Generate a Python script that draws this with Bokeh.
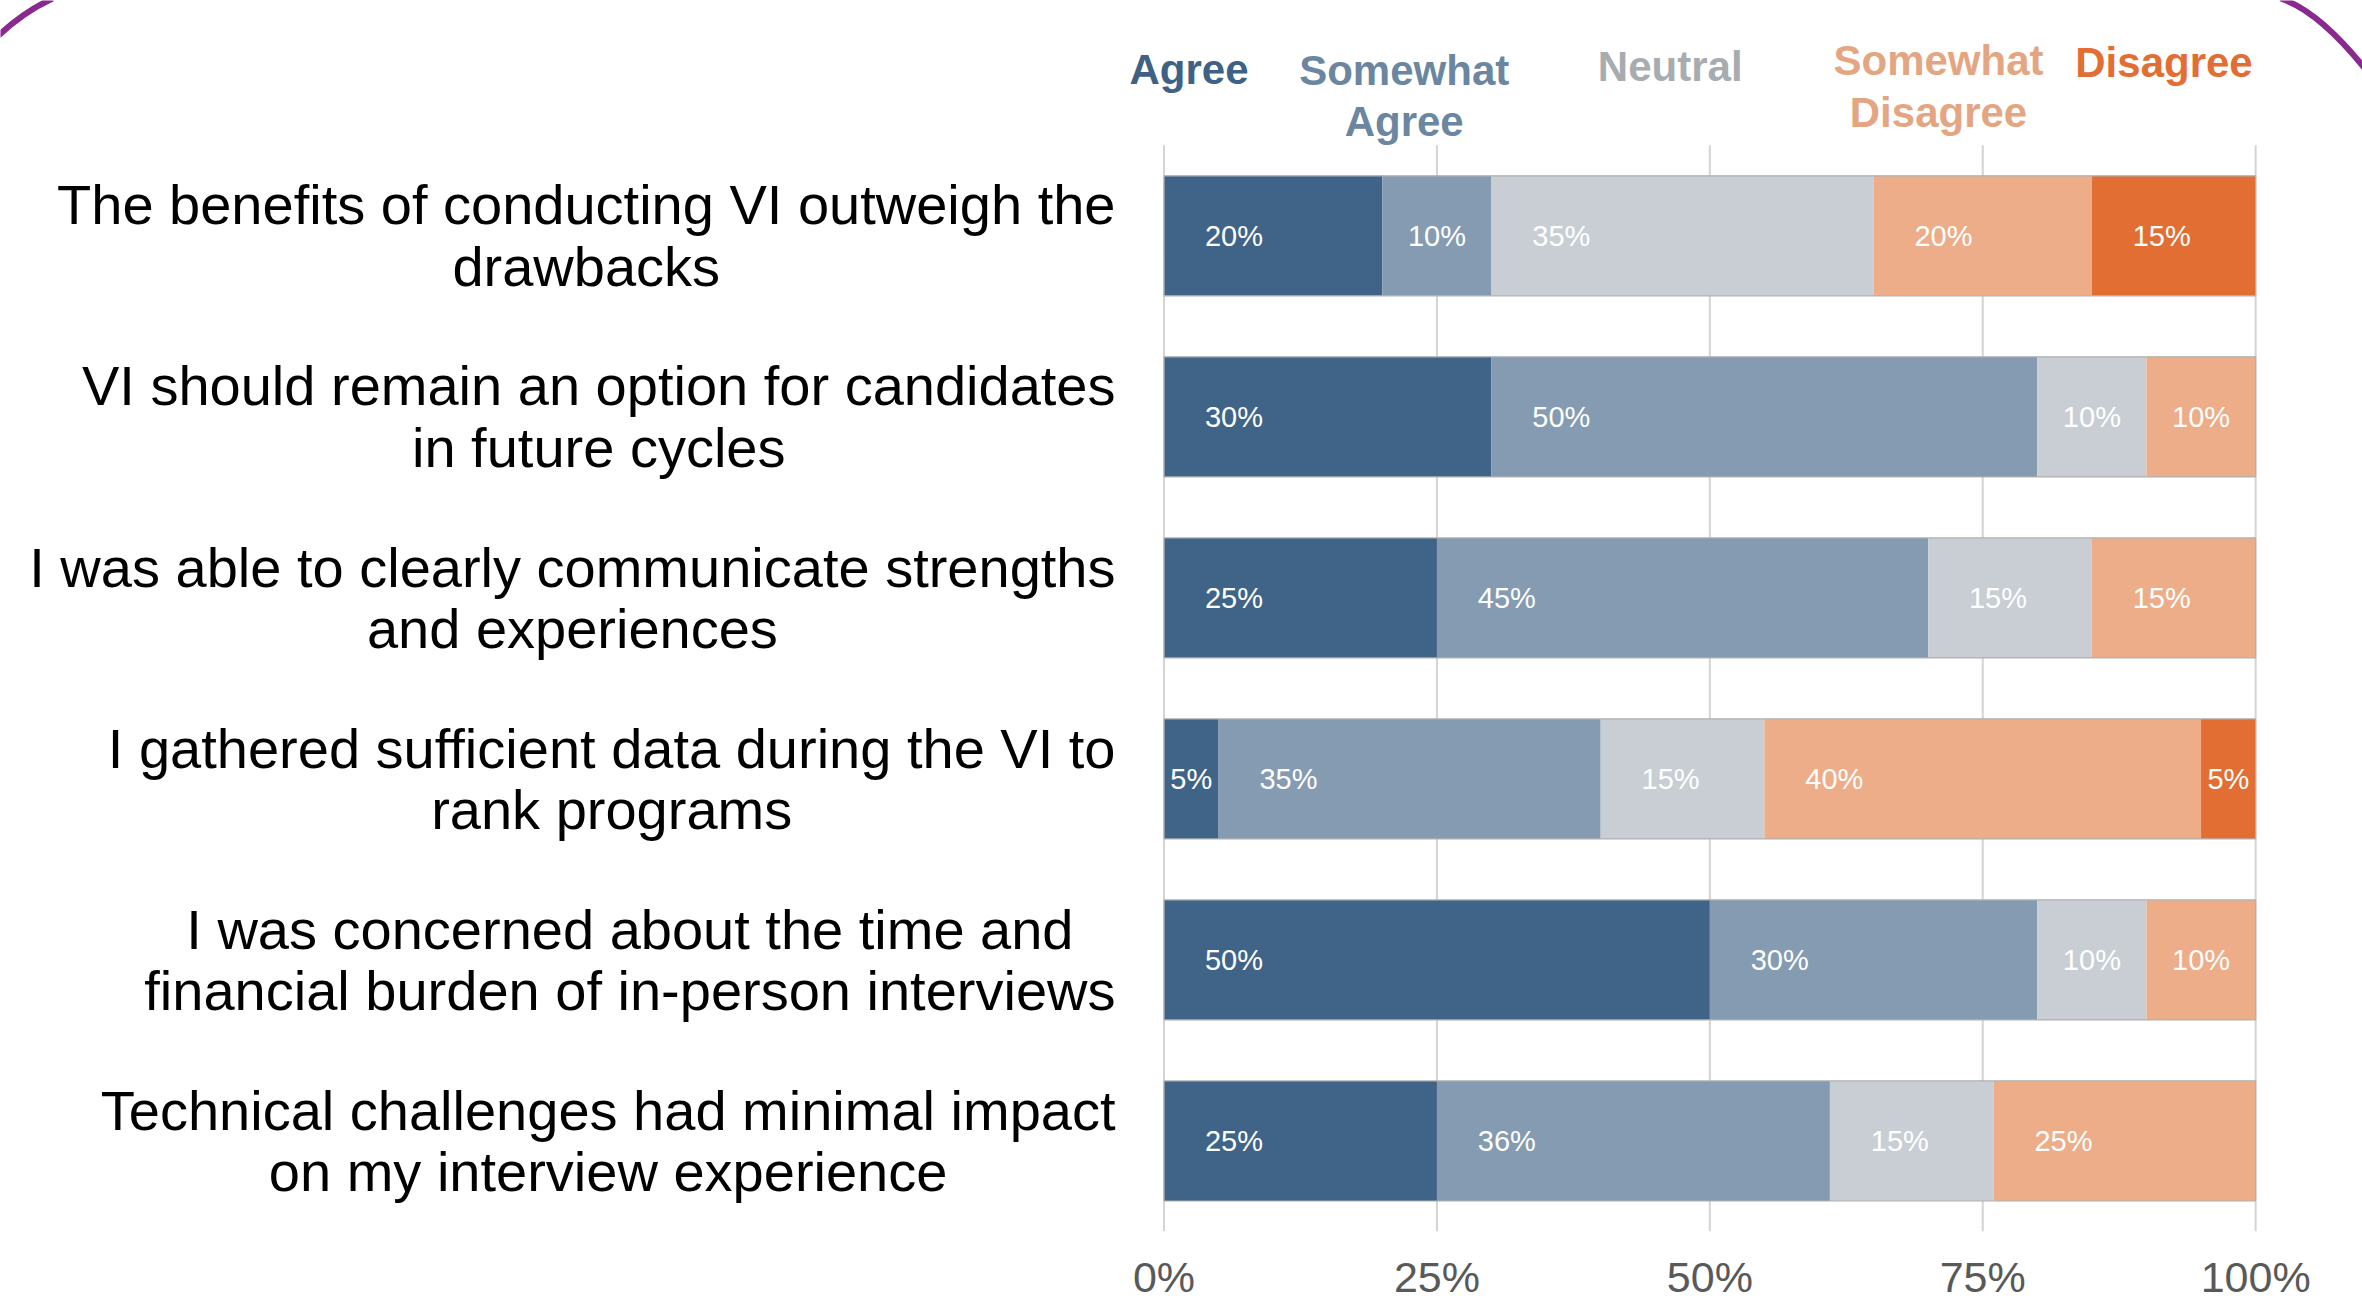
from bokeh.plotting import figure
from bokeh.models import Range1d, FixedTicker
from bokeh.core.properties import value
from bokeh.embed import file_html
from bokeh.resources import INLINE

# ---------------- data ----------------
statements = [
    "The benefits of conducting VI outweigh the\ndrawbacks",
    "VI should remain an option for candidates\nin future cycles",
    "I was able to clearly communicate strengths\nand experiences",
    "I gathered sufficient data during the VI to\nrank programs",
    "I was concerned about the time and\nfinancial burden of in-person interviews",
    "Technical challenges had minimal impact\non my interview experience",
]
series_names = ["Agree", "Somewhat\nAgree", "Neutral", "Somewhat\nDisagree", "Disagree"]
agree = [20, 30, 25, 5, 50, 25]
somewhat_agree = [10, 50, 45, 35, 30, 36]
neutral = [35, 10, 15, 15, 10, 15]
somewhat_disagree = [20, 10, 15, 40, 10, 25]
disagree = [15, 0, 0, 5, 0, 0]
tick_values = [0, 25, 50, 75, 100]
tick_labels = ["0%", "25%", "50%", "75%", "100%"]

# ---------------- style ----------------
bar_colors = ["#3F6487", "#849BB1", "#C8CED3", "#ECAD88", "#E26E33"]
legend_colors = ["#3F6186", "#6A86A1", "#A7ACB0", "#E4A682", "#E26E33"]
FONT = "Liberation Sans"

FRAME_W, FRAME_H = 2362, 1231
X0, X1 = -106.59, 109.79
Y_BOTTOM, Y_TOP = 5.5, -1.300


def px_x(px):
    # page pixel -> data x
    return X0 + px / FRAME_W * (X1 - X0)


def px_y(py):
    return Y_TOP + py / FRAME_H * (Y_BOTTOM - Y_TOP)


p = figure(
    frame_width=FRAME_W, frame_height=FRAME_H,
    x_range=Range1d(X0, X1), y_range=Range1d(Y_BOTTOM, Y_TOP),
    y_axis_type=None, output_backend="svg", toolbar_location=None,
    min_border_left=0, min_border_right=0, min_border_top=0, min_border_bottom=0,
)
p.outline_line_color = None
p.xgrid.visible = False
p.background_fill_color = "white"
p.border_fill_color = "white"

# gridlines (bounded to the category area)
p.segment(x0=tick_values, x1=tick_values, y0=[-0.5] * 5, y1=[len(statements) - 0.5] * 5,
          line_color="#D4D4D4", line_width=2)

# stacked bars (axis maximum is 100%)
series = [agree, somewhat_agree, neutral, somewhat_disagree, disagree]
rows = list(range(len(statements)))
starts = [0.0] * len(statements)
lx, ly, lt = [], [], []
for vals, col in zip(series, bar_colors):
    idx = [i for i, v in enumerate(vals) if v > 0 and starts[i] < 100]
    left = [starts[i] for i in idx]
    right = [min(starts[i] + vals[i], 100) for i in idx]
    p.hbar(y=idx, left=left, right=right, height=0.663, fill_color=col, line_color=None)
    for i in idx:
        lx.append(starts[i] + min(vals[i] / 2, 6.4))
        ly.append(i)
        lt.append(f"{vals[i]}%")
    starts = [s + v for s, v in zip(starts, vals)]

# thin grey bar edge
p.quad(left=[0] * len(rows), right=[min(s, 100) for s in starts],
       top=[r - 0.663 / 2 for r in rows], bottom=[r + 0.663 / 2 for r in rows],
       fill_color=None, line_color="#B0B0B0", line_width=1.2)

p.text(x=lx, y=ly, text=lt, text_color="white", text_font=value(FONT),
       text_font_size="29px", text_align="center", text_baseline="middle")

# statement labels (centered lines, block right-aligned)
p.text(x=[px_x(1115)] * len(rows), y=rows, text=statements, text_color="black",
       text_font=value(FONT), text_font_size="56px", text_align="center",
       text_baseline="middle", anchor="center_right", text_line_height=0.98)

# legend labels at the top
legend_x = [px_x(1188.5), px_x(1403.7), px_x(1669.7), px_x(1938), px_x(2163.5)]
legend_y = [px_y(69), px_y(95.5), px_y(66), px_y(86), px_y(62)]
p.text(x=legend_x, y=legend_y, text=series_names, text_color=legend_colors,
       text_font=value(FONT), text_font_size="42px", text_font_style="bold",
       text_align="center", text_baseline="middle", text_line_height=1.1)

# decorative slide border corners
p.quadratic(x0=[px_x(-2), px_x(2280)], y0=[px_y(35), px_y(-2)],
            x1=[px_x(52), px_x(2366)], y1=[px_y(-2), px_y(70)],
            cx=[px_x(23), px_x(2318)], cy=[px_y(11.5), px_y(10)],
            line_color="#8B2A8E", line_width=6)

# x axis
ax = p.xaxis[0]
ax.ticker = FixedTicker(ticks=tick_values)
ax.major_label_overrides = {t: l for t, l in zip(tick_values, tick_labels)}
ax.axis_line_color = None
ax.major_tick_line_color = None
ax.minor_tick_line_color = None
ax.major_tick_out = 0
ax.major_tick_in = 0
ax.major_label_standoff = 21
ax.major_label_text_font = FONT
ax.major_label_text_font_size = "43px"
ax.major_label_text_color = "#595959"

open("out.html", "w").write(file_html(p, INLINE))
